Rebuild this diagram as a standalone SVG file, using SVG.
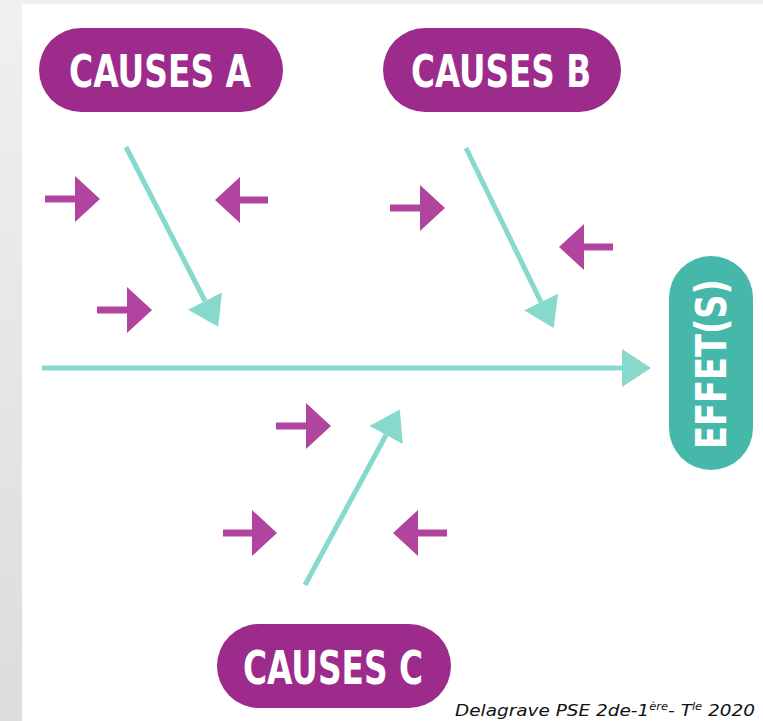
<svg xmlns="http://www.w3.org/2000/svg" width="763" height="721" viewBox="0 0 763 721">
<style>
.pillM{fill:#9c2b8c}
.pillT{fill:#45b8a9}
.lbl{font-family:"DejaVu Sans Condensed","Liberation Sans Narrow","Liberation Sans",sans-serif;font-weight:bold;fill:#ffffff;text-anchor:middle}
.mag{stroke:#b0449f;stroke-width:7;fill:none}
.teal{stroke:#86d9cc;stroke-width:5;fill:none}
.cap{font-family:"DejaVu Sans","Liberation Sans",sans-serif;font-style:italic;font-size:16px;fill:#111}
</style>
<defs>
<linearGradient id="strip" x1="0" y1="0" x2="0" y2="1">
<stop offset="0" stop-color="#f0f0f0"/><stop offset="1" stop-color="#dcdcdc"/>
</linearGradient>
<marker id="mh" markerUnits="userSpaceOnUse" markerWidth="26" markerHeight="46" viewBox="0 0 26 46" refX="0" refY="23" orient="auto">
<path d="M0,0 L25,23 L0,46 z" fill="#b0449f"/>
</marker>
<marker id="th" markerUnits="userSpaceOnUse" markerWidth="30" markerHeight="40" viewBox="0 0 30 40" refX="0" refY="20" orient="auto">
<path d="M0,1 L29,20 L0,39 z" fill="#86d9cc"/>
</marker>
</defs>
<rect x="0" y="0" width="763" height="721" fill="#ffffff"/>
<rect x="0" y="0" width="22" height="721" fill="url(#strip)"/>
<rect x="0" y="0" width="763" height="4" fill="#efefef"/>

<g id="causesA">
<rect class="pillM" x="39" y="28" width="244" height="84" rx="42"/>
<text class="lbl" x="160" y="87" font-size="44" textLength="182" lengthAdjust="spacingAndGlyphs">CAUSES A</text>
</g>
<g id="causesB">
<rect class="pillM" x="383" y="28" width="238" height="84" rx="42"/>
<text class="lbl" x="501" y="87" font-size="44" textLength="180" lengthAdjust="spacingAndGlyphs">CAUSES B</text>
</g>
<g id="causesC">
<rect class="pillM" x="217" y="624" width="234" height="84" rx="42"/>
<text class="lbl" x="333" y="684" font-size="46" textLength="180" lengthAdjust="spacingAndGlyphs">CAUSES C</text>
</g>
<g id="effets">
<rect class="pillT" x="669" y="256" width="84" height="214" rx="42"/>
<text class="lbl" x="0" y="0" font-size="42" textLength="170" lengthAdjust="spacingAndGlyphs" transform="translate(726,364) rotate(-90)">EFFET(S)</text>
</g>

<g id="connectors">
<line class="teal" x1="42" y1="368" x2="622" y2="368" marker-end="url(#th)"/>
<line class="teal" x1="126" y1="147" x2="205" y2="301" marker-end="url(#th)"/>
<line class="teal" x1="466" y1="148" x2="541" y2="302" marker-end="url(#th)"/>
<line class="teal" x1="305" y1="585" x2="386" y2="435" marker-end="url(#th)"/>

<line class="mag" x1="45" y1="199" x2="75" y2="199" marker-end="url(#mh)"/>
<line class="mag" x1="268" y1="200" x2="240" y2="200" marker-end="url(#mh)"/>
<line class="mag" x1="97" y1="310" x2="127" y2="310" marker-end="url(#mh)"/>
<line class="mag" x1="390" y1="208" x2="420" y2="208" marker-end="url(#mh)"/>
<line class="mag" x1="613" y1="247" x2="584" y2="247" marker-end="url(#mh)"/>
<line class="mag" x1="276" y1="426" x2="306" y2="426" marker-end="url(#mh)"/>
<line class="mag" x1="223" y1="533" x2="252" y2="533" marker-end="url(#mh)"/>
<line class="mag" x1="447" y1="533" x2="418" y2="533" marker-end="url(#mh)"/>
</g>

<text class="cap" x="455" y="716" textLength="300" lengthAdjust="spacingAndGlyphs">Delagrave PSE 2de-1<tspan font-size="10" dy="-6">ère</tspan><tspan dy="6">- T</tspan><tspan font-size="10" dy="-6">le</tspan><tspan dy="6"> 2020</tspan></text>
</svg>
